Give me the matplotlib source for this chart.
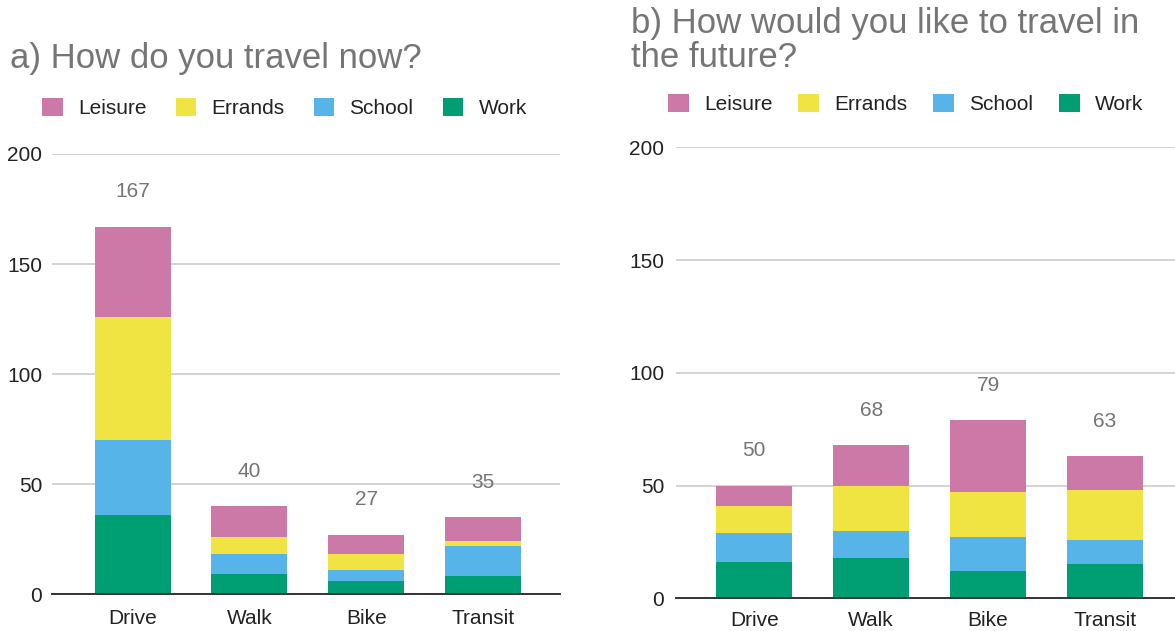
import numpy as np
import matplotlib
matplotlib.use("Agg")
import matplotlib.pyplot as plt
from matplotlib.patches import Patch

plt.rcParams['font.family'] = ['Liberation Sans', 'DejaVu Sans']

# =========================
# DATA
# =========================
modes = ["Drive", "Walk", "Bike", "Transit"]
purposes = ["Work", "School", "Errands", "Leisure"]

now_work = [36, 9, 6, 8]
now_school = [34, 9, 5, 14]
now_errands = [56, 8, 7, 2]
now_leisure = [41, 14, 9, 11]

future_work = [16, 18, 12, 15]
future_school = [13, 12, 15, 11]
future_errands = [12, 20, 20, 22]
future_leisure = [9, 18, 32, 15]

y_ticks = [0, 50, 100, 150, 200]

colors = {"Work": "#009e73", "School": "#56b4e9",
          "Errands": "#f0e442", "Leisure": "#cc79a7"}

title_col = "#757575"
text_col = "#222222"

W, H = 1175, 631
fig = plt.figure(figsize=(W / 100, H / 100), dpi=100)

ax1 = fig.add_axes([52 / W, 37 / H, 508 / W, 440 / H])
ax2 = fig.add_axes([676 / W, 32.7 / H, 499 / W, 451 / H])


def draw(ax, series, xlim, ypad, xpad):
    x = np.arange(len(modes))
    bottom = np.zeros(len(modes))
    for name, vals in zip(purposes, series):
        ax.bar(x, vals, width=0.65, bottom=bottom, color=colors[name],
               label=name, zorder=3)
        bottom = bottom + np.array(vals)
    # totals above each stack
    for xi, tot in zip(x, bottom):
        ax.annotate(str(int(tot)), (xi, tot), xytext=(0, 25),
                    textcoords="offset points", ha="center", va="center",
                    fontsize=15, color=title_col, zorder=4)
    ax.set_xlim(*xlim)
    ax.set_ylim(0, 200)
    ax.set_yticks(y_ticks)
    ax.set_xticks(x)
    ax.set_xticklabels(modes)
    ax.grid(axis="y", color="#cccccc", linewidth=1.2, zorder=0)
    for s in ["top", "right", "left"]:
        ax.spines[s].set_visible(False)
    ax.spines["bottom"].set_color("#333333")
    ax.spines["bottom"].set_linewidth(1.4)
    ax.spines["bottom"].set_zorder(5)
    ax.tick_params(axis="both", length=0, labelsize=15, labelcolor=text_col)
    ax.tick_params(axis="y", pad=ypad)
    ax.tick_params(axis="x", pad=xpad)


draw(ax1, [now_work, now_school, now_errands, now_leisure], (-0.69, 3.66), 7, 10.5)
draw(ax2, [future_work, future_school, future_errands, future_leisure], (-0.67, 3.6), 8.5, 9)

# =========================
# TITLES
# =========================
fig.text(10 / W, 1 - 68 / H, "a) How do you travel now?", fontsize=25,
         color=title_col, va="baseline", ha="left")
fig.text(631 / W, 1 - 33 / H, "b) How would you like to travel in",
         fontsize=25, color=title_col, va="baseline", ha="left")
fig.text(631 / W, 1 - 67 / H, "the future?",
         fontsize=25, color=title_col, va="baseline", ha="left")

# =========================
# LEGENDS
# =========================
handles = [Patch(facecolor=colors[n], edgecolor="none", label=n)
           for n in ["Leisure", "Errands", "School", "Work"]]
for x0, yc, cs in [(42, 108, 1.4), (668, 104, 1.25)]:
    fig.legend(handles=handles, loc="center left", ncol=4, frameon=False,
               bbox_to_anchor=(x0 / W, 1 - yc / H), fontsize=15,
               handlelength=1.0, handleheight=0.95, handletextpad=0.72,
               columnspacing=cs, borderpad=0, borderaxespad=0,
               labelcolor=text_col)

fig.savefig("out.png", dpi=100)
